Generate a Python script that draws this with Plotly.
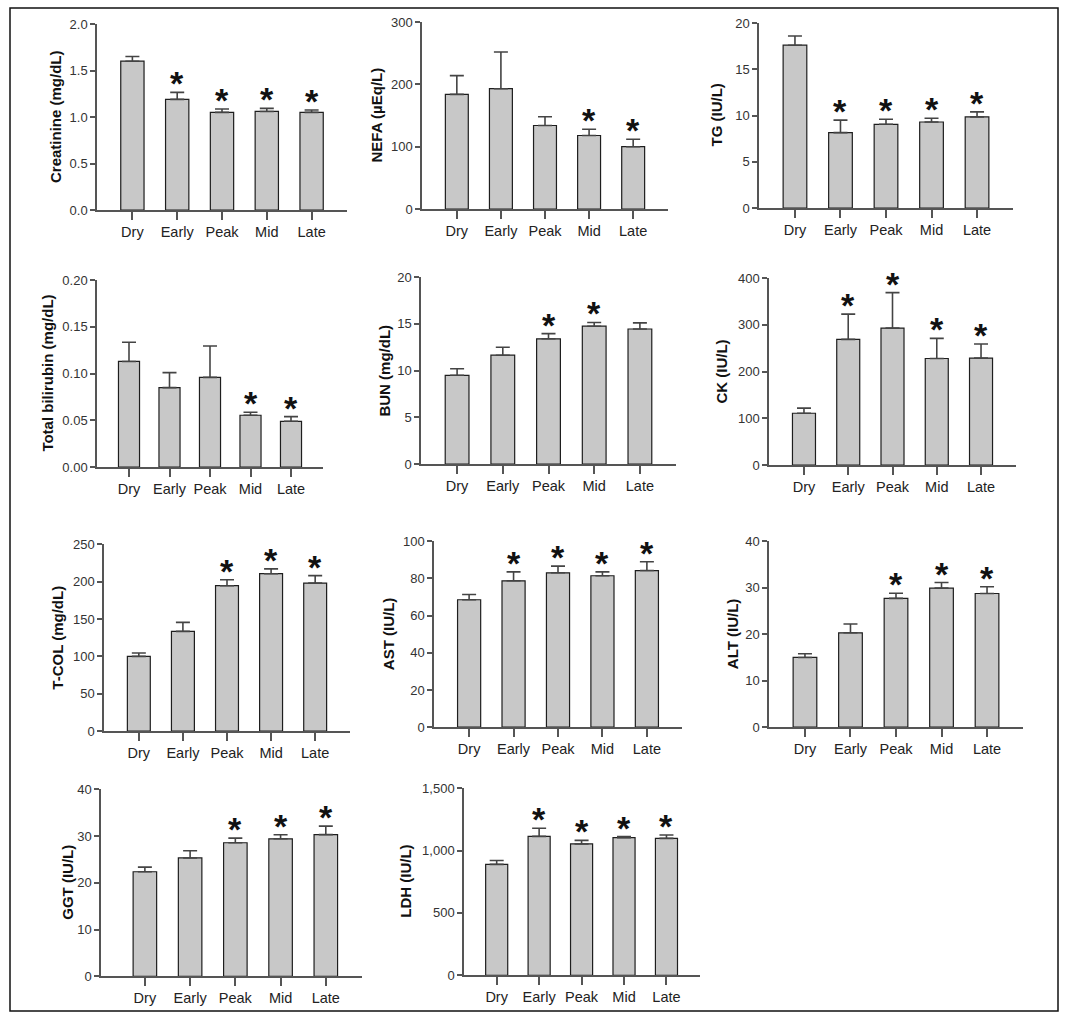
import plotly.graph_objects as go

# ---------------- data ----------------
groups = ["Dry", "Early", "Peak", "Mid", "Late"]

creatinine_mean = [1.60, 1.19, 1.05, 1.06, 1.05]
creatinine_err = [0.05, 0.075, 0.036, 0.033, 0.025]
creatinine_sig = [0, 1, 1, 1, 1]

nefa_mean = [184, 193, 134, 118, 100]
nefa_err = [30, 59, 14, 10, 12]
nefa_sig = [0, 0, 0, 1, 1]

tg_mean = [17.6, 8.15, 9.05, 9.3, 9.85]
tg_err = [1.0, 1.35, 0.55, 0.4, 0.55]
tg_sig = [0, 1, 1, 1, 1]

bilirubin_mean = [0.113, 0.085, 0.096, 0.0555, 0.049]
bilirubin_err = [0.0205, 0.016, 0.0335, 0.0032, 0.005]
bilirubin_sig = [0, 0, 0, 1, 1]

bun_mean = [9.5, 11.65, 13.4, 14.75, 14.45]
bun_err = [0.7, 0.85, 0.55, 0.4, 0.65]
bun_sig = [0, 0, 1, 1, 0]

ck_mean = [111, 269, 293, 228, 229]
ck_err = [11, 54, 76, 43, 30]
ck_sig = [0, 1, 1, 1, 1]

tcol_mean = [100, 133.5, 194.5, 210.5, 198]
tcol_err = [4.5, 12, 8, 6.5, 10]
tcol_sig = [0, 0, 1, 1, 1]

ast_mean = [68.5, 78.7, 83, 81.4, 84.2]
ast_err = [2.8, 4.8, 3.6, 2.1, 4.7]
ast_sig = [0, 1, 1, 1, 1]

alt_mean = [15.0, 20.3, 27.7, 29.9, 28.75]
alt_err = [0.8, 1.9, 1.1, 1.2, 1.45]
alt_sig = [0, 0, 1, 1, 1]

ggt_mean = [22.35, 25.3, 28.55, 29.4, 30.3]
ggt_err = [1.0, 1.55, 1.0, 0.85, 1.8]
ggt_sig = [0, 0, 1, 1, 1]

ldh_mean = [889, 1114, 1053, 1104, 1098]
ldh_err = [32, 65, 29, 8, 27]
ldh_sig = [0, 1, 1, 1, 1]

y_titles = ["Creatinine (mg/dL)", "NEFA (\u00b5Eq/L)", "TG (IU/L)",
            "Total bilirubin (mg/dL)", "BUN (mg/dL)", "CK (IU/L)",
            "T-COL (mg/dL)", "AST (IU/L)", "ALT (IU/L)",
            "GGT (IU/L)", "LDH (IU/L)"]
y_max = [2.0, 300, 20, 0.20, 20, 400, 250, 100, 40, 40, 1500]
y_dtick = [0.5, 100, 5, 0.05, 5, 100, 50, 20, 10, 10, 500]
y_fmt = [".1f", "d", "d", ".2f", "d", "d", "d", "d", "d", "d", ","]

panels = [
    (creatinine_mean, creatinine_err, creatinine_sig),
    (nefa_mean, nefa_err, nefa_sig),
    (tg_mean, tg_err, tg_sig),
    (bilirubin_mean, bilirubin_err, bilirubin_sig),
    (bun_mean, bun_err, bun_sig),
    (ck_mean, ck_err, ck_sig),
    (tcol_mean, tcol_err, tcol_sig),
    (ast_mean, ast_err, ast_sig),
    (alt_mean, alt_err, alt_sig),
    (ggt_mean, ggt_err, ggt_sig),
    (ldh_mean, ldh_err, ldh_sig),
]

# ---------------- layout geometry (target pixels) ----------------
W, H = 1069, 1020
boxes = [(97, 347, 24, 210), (422, 668, 22, 209), (759, 1013, 23, 208),
         (97, 323, 280, 467), (421, 676, 277, 464), (769, 1016, 278, 465),
         (104, 350, 544, 731), (434, 682, 541, 727), (769, 1023, 541, 727),
         (101, 362, 789, 976), (464, 700, 788, 975)]
title_x = [55, 377, 717, 48, 385, 722, 58, 388, 732, 68, 406]
x_ranges = [[-0.79, 4.79]] * 9 + [[-0.97, 4.8], [-0.77, 4.79]]

# vertical calibration of the capture (observed: shown_y = 7 + 0.985 * page_y)
CAL_A, CAL_S = 7.0, 0.985


def px_x(p):
    return p / W


def px_y(p):
    q = (p - CAL_A) / CAL_S
    q = min(max(q, 1.0), H - 1.0)
    return 1 - q / H


FONT = "Liberation Sans, Arial, sans-serif"
AXC = "#555555"

fig = go.Figure()
layout = dict(
    width=W, height=H, margin=dict(l=0, r=0, t=0, b=0),
    paper_bgcolor="white", plot_bgcolor="white", showlegend=False,
    font=dict(family=FONT, color="#222222"),
)
annotations = []

for i, (mean, err, sig) in enumerate(panels):
    n = i + 1
    xa = "x" if n == 1 else f"x{n}"
    ya = "y" if n == 1 else f"y{n}"
    fig.add_trace(go.Bar(
        x=list(range(len(groups))), y=mean, width=0.52,
        xaxis=xa, yaxis=ya,
        marker=dict(color="#c8c8c8", line=dict(color="#1e1e1e", width=1.2)),
        error_y=dict(type="data", array=err, arrayminus=[0] * len(err),
                     symmetric=False, color="#444444", thickness=1.6, width=7),
        hoverinfo="skip",
    ))
    x0, x1, y0, y1 = boxes[i]
    layout["xaxis" if n == 1 else f"xaxis{n}"] = dict(
        domain=[px_x(x0), px_x(x1)], anchor=ya, range=x_ranges[i],
        tickmode="array", tickvals=list(range(len(groups))), ticktext=groups,
        ticks="outside", ticklen=8, tickwidth=1.5, tickcolor=AXC,
        showline=True, linecolor=AXC, linewidth=1.5, showgrid=False,
        zeroline=False, tickfont=dict(size=14.5, color="#222222", family=FONT),
        fixedrange=True,
    )
    layout["yaxis" if n == 1 else f"yaxis{n}"] = dict(
        domain=[px_y(y1), px_y(y0)], anchor=xa, range=[0, y_max[i]],
        tickmode="linear", tick0=0, dtick=y_dtick[i], tickformat=y_fmt[i],
        ticks="outside", ticklen=5, tickwidth=1.5, tickcolor=AXC,
        showline=True, linecolor=AXC, linewidth=1.5, showgrid=False,
        zeroline=False, tickfont=dict(size=13, color="#333333", family=FONT),
        fixedrange=True,
    )
    annotations.append(dict(
        xref="paper", yref="paper", x=px_x(title_x[i]),
        y=px_y((y0 + y1) / 2), text=f"<b>{y_titles[i]}</b>",
        textangle=-90, showarrow=False, xanchor="center", yanchor="middle",
        font=dict(size=15, color="#111111", family=FONT),
    ))
    for j, s in enumerate(sig):
        if s:
            annotations.append(dict(
                xref=xa, yref=ya, x=j, y=mean[j] + err[j], text="<b>*</b>",
                showarrow=False, xanchor="center", yanchor="bottom",
                yshift=-12, font=dict(size=34, color="#111111", family=FONT),
            ))

layout["annotations"] = annotations
layout["shapes"] = [dict(type="rect", xref="paper", yref="paper",
                         x0=px_x(10), x1=px_x(1058), y0=px_y(1015), y1=px_y(3),
                         line=dict(color="#111111", width=1.5))]
fig.update_layout(**layout)
fig.write_html(
    "out.html",
    config={"displayModeBar": False},
    post_script="document.body.style.margin='0';document.body.style.overflow='hidden';",
)
